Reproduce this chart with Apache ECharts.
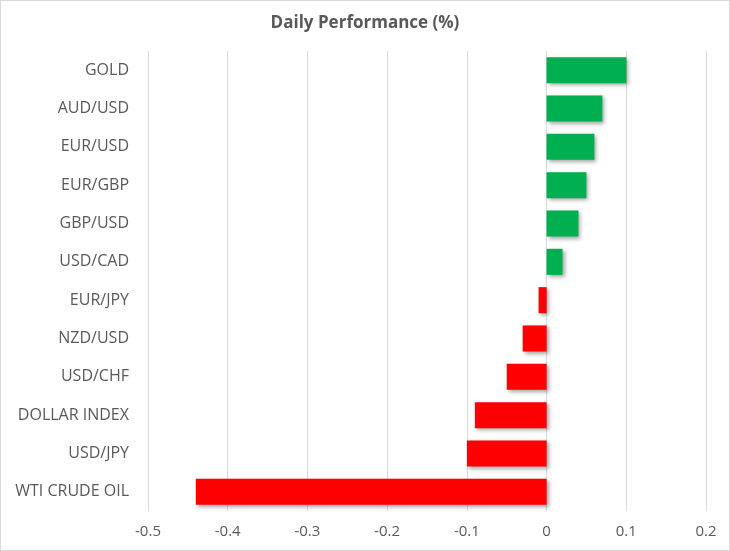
<!DOCTYPE html>
<html>
<head>
<meta charset="utf-8">
<script src="https://cdn.jsdelivr.net/npm/echarts@6/dist/echarts.min.js"></script>
<style>
    html, body { margin: 0; padding: 0; background: #fff; }
    #daily_performance { width: 728px; height: 549px; border: 1px solid #d9d9d9; }
</style>
</head>
<body>
<div id="daily_performance"></div>
<script>
// Chart data
var categories = ['GOLD', 'AUD/USD', 'EUR/USD', 'EUR/GBP', 'GBP/USD', 'USD/CAD',
    'EUR/JPY', 'NZD/USD', 'USD/CHF', 'DOLLAR INDEX', 'USD/JPY', 'WTI CRUDE OIL'];
var changes = [0.10, 0.07, 0.06, 0.05, 0.04, 0.02, -0.01, -0.03, -0.05, -0.09, -0.10, -0.44];
var tickMin = -0.5;
var tickMax = 0.2;
var tickStep = 0.1;

// Colours
var upColor = '#00b050';
var downColor = '#ff0000';
var textColor = '#595959';

var chart_element = document.getElementById('daily_performance');
var chart = echarts.init(chart_element);

chart.setOption({

    // Global text styles
    textStyle: {
        fontFamily: '"Open Sans", sans-serif',
        fontSize: 14
    },

    animation: false,

    // Title
    title: {
        text: 'Daily Performance (%)',
        left: 'center',
        top: 9,
        textStyle: {
            color: textColor,
            fontSize: 17,
            fontWeight: 'bold',
            fontFamily: '"Open Sans", sans-serif'
        }
    },

    // Setup grid
    grid: {
        left: 147,
        right: 23,
        top: 50,
        bottom: 39,
        containLabel: false
    },

    // Horizontal axis
    xAxis: {
        type: 'value',
        min: tickMin,
        max: tickMax,
        interval: tickStep,
        axisLine: { show: false },
        axisTick: { show: false },
        axisLabel: {
            color: textColor,
            fontSize: 15,
            margin: 13,
            formatter: function(v) {
                return String(Math.round(v * 10) / 10);
            }
        },
        splitLine: {
            show: true,
            lineStyle: { color: '#d9d9d9', width: 1 }
        }
    },

    // Vertical axis
    yAxis: {
        type: 'category',
        inverse: true,
        data: categories,
        axisLine: { show: false },
        axisTick: { show: false },
        axisLabel: {
            color: textColor,
            fontSize: 16,
            margin: 19
        }
    },

    // Series
    series: [{
        type: 'bar',
        barCategoryGap: '32%',
        data: changes.map(function(v) {
            return {
                value: v,
                itemStyle: { color: v >= 0 ? upColor : downColor }
            };
        }),
        itemStyle: {
            shadowColor: 'rgba(0,0,0,0.35)',
            shadowBlur: 4,
            shadowOffsetX: 2,
            shadowOffsetY: 2
        }
    }]
});
</script>
</body>
</html>
